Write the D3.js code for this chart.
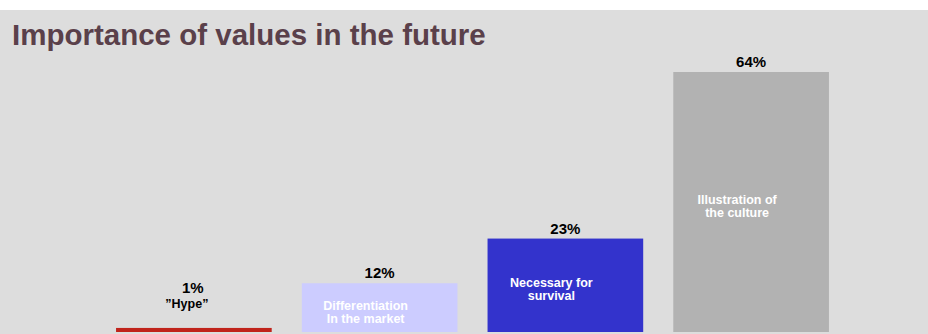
<!DOCTYPE html>
<html>
<head>
<meta charset="utf-8">
<script src="https://cdn.jsdelivr.net/npm/d3@7"></script>
<style>
  html, body { margin: 0; padding: 0; background: #ffffff; }
  svg { display: block; }
  text { font-family: "Liberation Sans", Arial, Helvetica, sans-serif; font-weight: bold; }
</style>
</head>
<body>
<svg id="chart" width="928" height="334"></svg>
<script>
// Survey answers: how important are values in the future
const categories = ["\u201DHype\u201D", "Differentiation\nIn the market", "Necessary for\nsurvival", "Illustration of\nthe culture"];
const values = [1, 12, 23, 64];
const barColors = ["#c0231b", "#ccccff", "#3333cc", "#b2b2b2"];
const chartTitle = "Importance of values in the future";

const width = 928, height = 334;
const svg = d3.select("#chart");

// panel background below a thin white strip
svg.append("rect")
  .attr("x", 0).attr("y", 10)
  .attr("width", width).attr("height", height - 10)
  .attr("fill", "#dddddd");

svg.append("text")
  .attr("x", 12).attr("y", 45)
  .attr("font-size", 29.5)
  .attr("fill", "#5a404a")
  .text(chartTitle);

const x = d3.scaleBand()
  .domain(categories)
  .range([101, 844])
  .paddingInner(0.162)
  .paddingOuter(0.081);

const y = d3.scaleLinear()
  .domain([0, 64])
  .range([332, 72]);

const data = categories.map((c, i) => ({ cat: c, value: values[i], color: barColors[i] }));

const g = svg.append("g");

g.selectAll("rect.bar")
  .data(data)
  .join("rect")
  .attr("class", "bar")
  .attr("x", d => x(d.cat))
  .attr("y", d => y(d.value))
  .attr("width", x.bandwidth())
  .attr("height", d => y(0) - y(d.value))
  .attr("fill", d => d.color);

const lineH = 13;
// bars tall enough hold their category name inside in white; short ones get it above in black
const fitsInside = d => (y(0) - y(d.value)) > 2 * lineH + 10;

data.forEach(d => {
  const cx = x(d.cat) + x.bandwidth() / 2;
  const lines = d.cat.split("\n");
  if (fitsInside(d)) {
    const mid = (y(d.value) + y(0)) / 2 + 4;
    const firstBase = mid - (lines.length - 1) * lineH / 2 + 4.5;
    const label = g.append("g");
    lines.forEach((l, i) => {
      label.append("text")
        .attr("x", cx - 14)
        .attr("y", firstBase + i * lineH)
        .attr("text-anchor", "middle")
        .attr("font-size", 12.5)
        .attr("fill", "#ffffff")
        .text(l);
    });
    g.append("text")
      .attr("x", cx).attr("y", y(d.value) - 5)
      .attr("text-anchor", "middle")
      .attr("font-size", 15)
      .attr("fill", "#000000")
      .text(d.value + "%");
  } else {
    const nameBase = y(d.value) - 20;
    g.append("text")
      .attr("x", cx - 7).attr("y", nameBase)
      .attr("text-anchor", "middle")
      .attr("font-size", 12.5)
      .attr("fill", "#000000")
      .text(lines.join(" "));
    g.append("text")
      .attr("x", cx - 1).attr("y", nameBase - 15)
      .attr("text-anchor", "middle")
      .attr("font-size", 15)
      .attr("fill", "#000000")
      .text(d.value + "%");
  }
});
</script>
</body>
</html>
